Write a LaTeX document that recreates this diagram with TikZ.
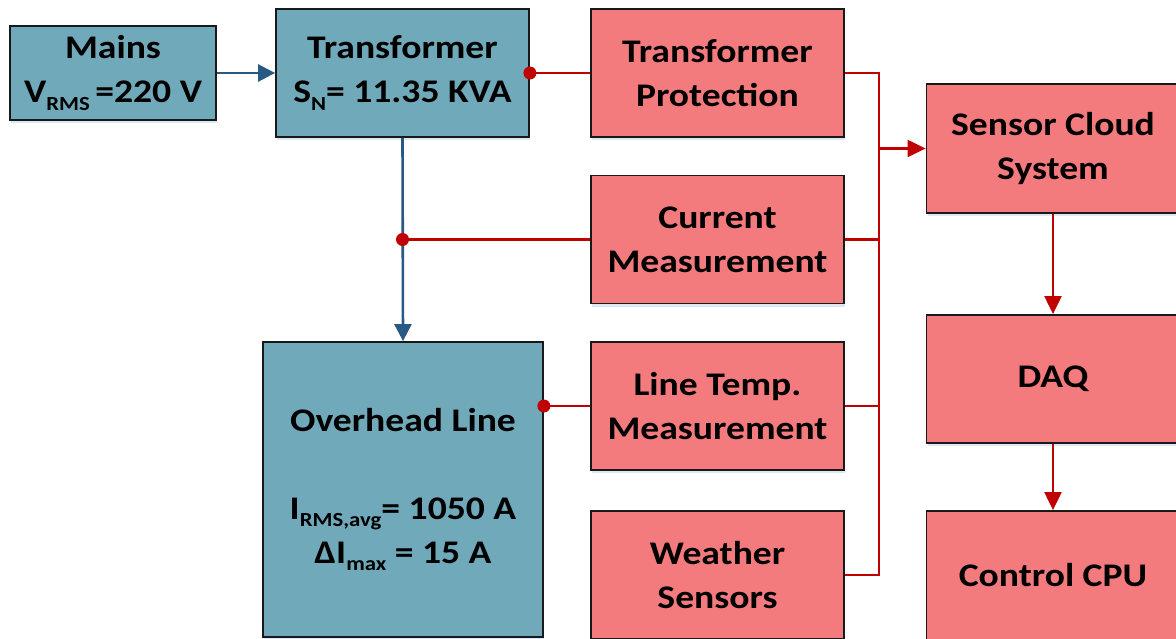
\documentclass[tikz,border=0pt]{standalone}
\usepackage{fontspec}
\setmainfont{Carlito}[FakeStretch=1.14]
\usetikzlibrary{arrows.meta,shadows}
\definecolor{teal1}{RGB}{112,169,185}
\definecolor{red1}{RGB}{244,123,125}
\definecolor{redline}{RGB}{192,0,0}
\definecolor{blueline}{RGB}{40,88,132}
\definecolor{shadowc}{RGB}{220,232,244}
\newcommand{\mysub}[1]{\raisebox{-0.22em}{\fontsize{20}{20}\selectfont #1}}
\begin{document}
\begin{tikzpicture}[x=1pt,y=-1pt,
  box/.style={draw=black!90, line width=1.8pt, inner sep=0pt, align=center, text=black,
    font=\fontsize{33}{44}\selectfont\bfseries,
    drop shadow={shadow xshift=1pt, shadow yshift=-3pt, fill=shadowc, opacity=1}},
  tbox/.style={box, fill=teal1},
  rbox/.style={box, fill=red1},
  bconn/.style={draw=blueline, line width=2.6pt},
  rconn/.style={draw=redline, line width=2.1pt},
  barrow/.style={bconn, -{Triangle[length=17pt,width=17pt]}},
  rarrow/.style={rconn, -{Triangle[length=18pt,width=17pt]}},
  dot/.style={fill=redline}]
\useasboundingbox (0,0) rectangle (1176,639);
% nodes
\node[tbox, minimum width=206pt, minimum height=94pt] (mains) at (113,73) {\raisebox{-3pt}{Mains}\\\raisebox{-3pt}{V\mysub{RMS}\,=220 V}};
\node[tbox, minimum width=253pt, minimum height=128pt] (trans) at (402.5,73) {Transformer\\S\mysub{N}= 11.35 KVA};
\node[tbox, minimum width=280pt, minimum height=295pt] (ohl) at (403,489.5) {Overhead Line\\[44pt]I\mysub{RMS,avg}= 1050 A\\ΔI\mysub{max} = 15 A};
\node[rbox, minimum width=253pt, minimum height=128pt] (tp) at (717.5,73) {Transformer\\Protection};
\node[rbox, minimum width=253pt, minimum height=128pt] (cm) at (717.5,239.5) {Current\\Measurement};
\node[rbox, minimum width=253pt, minimum height=128pt] (lt) at (717.5,406) {Line Temp.\\Measurement};
\node[rbox, minimum width=253pt, minimum height=128pt] (ws) at (717.5,575) {Weather\\Sensors};
\node[rbox, minimum width=253pt, minimum height=129pt] (scs) at (1053,148.5) {Sensor Cloud\\System};
\node[rbox, minimum width=253pt, minimum height=128pt] (daq) at (1053,379) {DAQ};
\node[rbox, minimum width=253pt, minimum height=129pt] (cpu) at (1053,575.5) {Control CPU};
\coordinate (bx) at (879,0);
% blue connectors
\draw[barrow] (mains.east) -- (trans.west);
\draw[barrow] (trans.south) -- (ohl.north);
% red taps
\coordinate (j1) at (trans.south |- cm.west);
\coordinate (j2) at (ohl.east |- lt.west);
\draw[rconn] (trans.east) -- (tp.west);
\draw[rconn] (j1) -- (cm.west);
\draw[rconn] (j2) -- (lt.west);
\fill[dot] (trans.east) circle (6.5pt);
\fill[dot] (j1) circle (6.5pt);
\fill[dot] (j2) circle (6.5pt);
% bus
\draw[rconn] (tp.east) -- (tp.east -| bx) -- (ws.east -| bx) -- (ws.east);
\draw[rconn] (cm.east) -- (cm.east -| bx);
\draw[rconn] (lt.east) -- (lt.east -| bx);
\draw[rarrow] (scs.west -| bx) -- (scs.west);
\draw[rarrow] (scs.south) -- (daq.north);
\draw[rarrow] (daq.south) -- (cpu.north);
\end{tikzpicture}
\end{document}
